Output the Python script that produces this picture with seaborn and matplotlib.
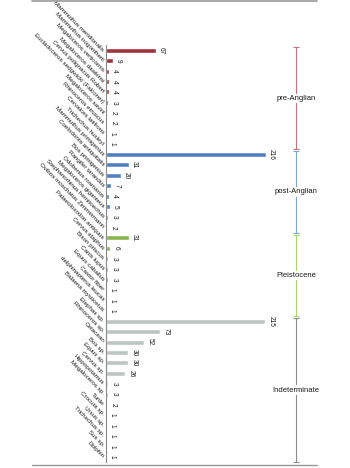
import matplotlib
matplotlib.use("Agg")
import matplotlib.pyplot as plt
import seaborn as sns
import pandas as pd
from matplotlib.lines import Line2D

species = [
    "Mammuthus meridionalis", "Mammuthus trogontherii", "Megaloceros verticornis",
    "Megaloceros dawkinsi", "Cervus polignacus Robert", "Eucladoceros sedgwicki (Falconer)",
    "Megaloceros savini", "Rhinoceros etruscus", "Cervalces latifrons", "Trichechus huxleyi",
    "Mammuthus primigenius", "Coelodonta antiquitatis", "Bos primigenius", "Rangifer tarandus",
    "Odobenus rosmarus", "Megaloceros giganteus", "Stephanorhinus hemitoechus",
    "Ovibos moschatus Zimmermann",
    "Palaeoloxodon antiquus", "Cervus elaphus", "Bison priscus", "Canis lupus",
    "Equus caballus", "Castor fiber", "delphinapterus leucas", "Balaena mysticetus",
    "Elephas sp.", "Rhinoceros sp.", "Cetacean", "Bos sp.", "Equus sp.", "Cervus sp.",
    "Hippopotamus", "Megaloceros sp.", "Turtle", "Crocuta sp.", "Ursus sp.",
    "Trichechus sp.", "Sus sp.", "Dolphin",
]
counts = [67, 9, 4, 4, 4, 3, 2, 2, 1, 1,
          216, 31, 20, 7, 4, 5, 3, 2,
          31, 6, 3, 3, 3, 1, 1, 1,
          215, 73, 52, 30, 30, 26, 3, 3, 2, 1, 1, 1, 1, 1]
periods = (["pre-Anglian"] * 10 + ["post-Anglian"] * 8
           + ["Pleistocene"] * 8 + ["Indeterminate"] * 14)
period_order = ["pre-Anglian", "post-Anglian", "Pleistocene", "Indeterminate"]

bar_colors = {"pre-Anglian": "#b5202e", "post-Anglian": "#3b7dd8",
              "Pleistocene": "#8dc63f", "Indeterminate": "#bcc6c4"}
bracket_colors = {"pre-Anglian": "#c8727b", "post-Anglian": "#7fa6d8",
                  "Pleistocene": "#a9d56a", "Indeterminate": "#8a8a8a"}

df = pd.DataFrame({"species": species, "count": counts, "period": periods})

sns.set_theme(style="white")
plt.rcParams['font.family'] = ['Liberation Sans', 'DejaVu Sans']

fig = plt.figure(figsize=(3.5, 4.68), dpi=100)
ax = fig.add_axes([106 / 350, 1 - 462 / 468, 211 / 350, 417 / 468])

sns.barplot(data=df, y="species", x="count", hue="period", palette=bar_colors,
            hue_order=period_order, dodge=False, width=0.48, legend=False,
            orient="h", ax=ax)

ax.set_xlim(0, 285)
ax.set_ylim(39.5, -0.5)
ax.set_xlabel("")
ax.set_ylabel("")
ax.set_xticks([])
ax.tick_params(axis="y", length=0, pad=2)
ax.set_yticks(range(len(species)))
ax.set_yticklabels(species, rotation=-45, ha="right", va="center",
                   rotation_mode="anchor", fontsize=4.5, color="#1a1a1a")

for side in ["top", "right", "bottom"]:
    ax.spines[side].set_visible(False)
ax.spines["left"].set_color("#888888")
ax.spines["left"].set_linewidth(0.8)

# value labels
for i, v in enumerate(counts):
    ax.text(v + 3, i, str(v), rotation=-90, va="center", ha="left",
            fontsize=4.7, color="#1a1a1a")

# period brackets
trans = ax.get_yaxis_transform()
xb = 0.90
for p in period_order:
    idx = [i for i, q in enumerate(periods) if q == p]
    y0, y1 = idx[0] - 0.3, idx[-1] + 0.5
    col = bracket_colors[p]
    ax.plot([xb, xb], [y0, y1], color=col, lw=0.8, transform=trans, clip_on=False)
    ax.plot([xb, xb], [y0, y1], color=col, lw=0, marker="_", markersize=5,
            markeredgewidth=0.8, transform=trans, clip_on=False)
    ax.text(xb, (y0 + y1) / 2, p, transform=trans, ha="center", va="center",
            fontsize=5.5, color="#1a1a1a",
            bbox=dict(facecolor="white", edgecolor="none", pad=0.8))

# frame lines at top and bottom
fig.add_artist(Line2D([32 / 350, 317 / 350], [1 - 1 / 468, 1 - 1 / 468],
                      color="#999999", lw=1.2))
fig.add_artist(Line2D([32 / 350, 317 / 350], [1 - 465 / 468, 1 - 465 / 468],
                      color="#999999", lw=1.0))

fig.savefig("out.png", dpi=100)
